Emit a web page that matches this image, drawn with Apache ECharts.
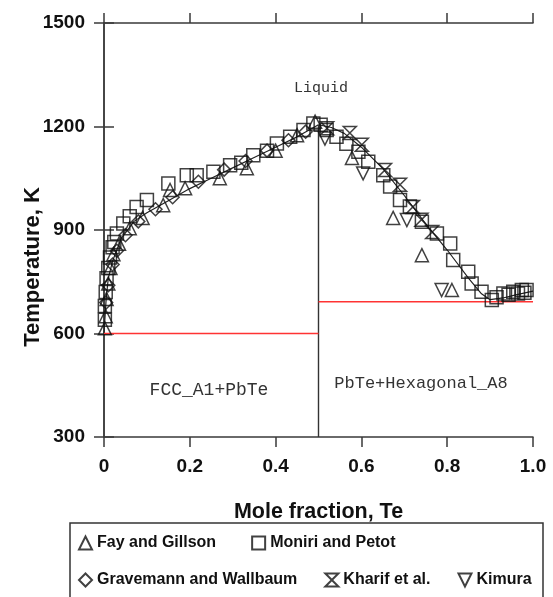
<!DOCTYPE html>
<html><head><meta charset="utf-8">
<script src="https://cdn.jsdelivr.net/npm/echarts@6/dist/echarts.min.js"></script>
<style>html,body{margin:0;padding:0;background:#fff}#c{width:553px;height:597px}</style>
</head><body><div id="c"></div>
<script>
// ---- data ----
var xTicks = [0, 0.2, 0.4, 0.6, 0.8, 1.0];
var xTickLabels = ['0', '0.2', '0.4', '0.6', '0.8', '1.0'];
var yTicks = [300, 600, 900, 1200, 1500];

var liquidusLeft = [[0,600],[0.005,700],[0.01,760],[0.02,810],[0.04,875],[0.07,925],[0.1,950],[0.15,985],[0.2,1020],[0.25,1050],[0.3,1080],[0.35,1110],[0.4,1140],[0.45,1170],[0.5,1205]];
var liquidusRight = [[0.5,1205],[0.53,1197],[0.56,1180],[0.6,1140],[0.65,1078],[0.7,1000],[0.75,918],[0.8,842],[0.85,760],[0.88,715],[0.9,698],[0.93,703],[0.96,712],[1.0,723]];
var compLine = [[0.5,1205],[0.5,300]];
var solidusLeft = [[0,600],[0.5,600]];
var solidusRight = [[0.5,692],[1.0,692]];

var fayGillson = [[0.002,615],[0.004,650],[0.006,700],[0.01,745],[0.015,790],[0.022,830],[0.035,860],[0.06,905],[0.09,935],[0.138,972],[0.154,1016],[0.189,1021],[0.27,1050],[0.333,1079],[0.4,1130],[0.45,1175],[0.492,1214],[0.578,1109],[0.674,935],[0.741,827],[0.811,726]];
var moniriPetot = [[0.002,640],[0.002,680],[0.004,720],[0.006,760],[0.01,790],[0.014,820],[0.02,850],[0.024,865],[0.03,890],[0.045,919],[0.06,940],[0.076,967],[0.1,987],[0.15,1035],[0.193,1059],[0.216,1059],[0.255,1069],[0.294,1088],[0.32,1095],[0.348,1117],[0.38,1130],[0.403,1151],[0.434,1170],[0.465,1190],[0.488,1209],[0.505,1205],[0.519,1190],[0.542,1170],[0.565,1150],[0.593,1127],[0.616,1098],[0.651,1059],[0.667,1026],[0.69,987],[0.713,968],[0.741,924],[0.776,890],[0.807,861],[0.814,813],[0.849,779],[0.857,745],[0.88,721],[0.904,697],[0.915,705],[0.931,716],[0.943,712],[0.954,721],[0.965,716],[0.974,726],[0.985,726],[0.98,718]];
var gravemannWallbaum = [[0.005,690],[0.01,740],[0.02,800],[0.03,840],[0.05,885],[0.08,925],[0.12,960],[0.16,995],[0.22,1040],[0.28,1075],[0.33,1100],[0.38,1130],[0.43,1160],[0.47,1185]];
var kharif = [[0.52,1195],[0.573,1181],[0.601,1147],[0.655,1074],[0.69,1031],[0.72,967],[0.74,930],[0.765,894]];
var kimura = [[0.515,1165],[0.604,1064],[0.706,929],[0.787,726]];

var seriesNames = ['Fay and Gillson','Moniri and Petot','Gravemann and Wallbaum','Kharif et al.','Kimura'];

// ---- chart ----
var chart = echarts.init(document.getElementById('c'), null, {renderer:'canvas'});
var FONT = '"Liberation Sans", Arial, sans-serif';
var MONO = '"Liberation Mono", "Courier New", monospace';
var axisColor = '#3a3a3a';

function scatter(name, data, symbol) {
  return {
    name: name, type: 'scatter', data: data, symbol: symbol, symbolSize: 13, z: 5,
    itemStyle: { color: 'rgba(0,0,0,0)', borderColor: '#111', borderWidth: 1.5 }
  };
}
function line(data, color, width) {
  return { type: 'line', data: data, showSymbol: false, symbol: 'none', silent: true,
    lineStyle: { color: color, width: width }, z: 3 };
}

var axisCommon = {
  axisLine: { show: true, lineStyle: { color: axisColor, width: 1.5 } },
  axisTick: { show: true, inside: false, length: 10, lineStyle: { color: axisColor, width: 1.5 } },
  splitLine: { show: false }
};

var legendText = { fontSize: 16, fontWeight: 'bold', color: '#111', fontFamily: FONT };

var option = {
  backgroundColor: '#fff',
  animation: false,
  grid: { left: 104, right: 20, top: 23, bottom: 160 },
  xAxis: [
    Object.assign({ type: 'value', min: 0, max: 1, interval: 0.2, position: 'bottom',
      axisLabel: { margin: 20, fontSize: 19, fontWeight: 'bold', color: '#111', fontFamily: FONT,
        formatter: function (v) { var i = xTicks.indexOf(Math.round(v*10)/10); return i >= 0 ? xTickLabels[i] : ''; } },
      name: 'Mole fraction, Te', nameLocation: 'middle', nameGap: 64,
      nameTextStyle: { fontSize: 21.5, fontWeight: 'bold', color: '#111', fontFamily: FONT }
    }, axisCommon),
    Object.assign({ type: 'value', min: 0, max: 1, interval: 0.2, position: 'top',
      axisLabel: { show: false } }, axisCommon)
  ],
  yAxis: [
    Object.assign({ type: 'value', min: 300, max: 1500, interval: 300, position: 'left',
      axisLabel: { margin: 19, fontSize: 19, fontWeight: 'bold', color: '#111', fontFamily: FONT,
        formatter: function (v) { return yTicks.indexOf(v) >= 0 ? String(v) : ''; } } }, axisCommon),
    Object.assign({ type: 'value', min: 300, max: 1500, interval: 300, position: 'right',
      axisLabel: { show: false } }, axisCommon)
  ],
  legend: [
    { data: seriesNames.slice(0,2), left: 73, top: 530, orient: 'horizontal', itemGap: 35,
      itemWidth: 13, itemHeight: 13, selectedMode: false, textStyle: legendText },
    { data: seriesNames.slice(2), left: 73, top: 567, orient: 'horizontal', itemGap: 27,
      itemWidth: 13, itemHeight: 13, selectedMode: false, textStyle: legendText }
  ],
  graphic: [
    { type: 'rect', shape: { x: 70, y: 523, width: 473, height: 100 },
      style: { fill: 'none', stroke: '#333', lineWidth: 1.5 }, z: 1 },
    { type: 'text', x: 33, y: 267, rotation: Math.PI/2,
      style: { text: 'Temperature, K', font: 'bold 22px ' + FONT, fill: '#111', textAlign: 'center', textVerticalAlign: 'middle' } },
    { type: 'text', x: 321, y: 88,
      style: { text: 'Liquid', font: '15px ' + MONO, fill: '#333', textAlign: 'center', textVerticalAlign: 'middle' } },
    { type: 'text', x: 209, y: 390,
      style: { text: 'FCC_A1+PbTe', font: '18px ' + MONO, fill: '#333', textAlign: 'center', textVerticalAlign: 'middle' } },
    { type: 'text', x: 421, y: 383,
      style: { text: 'PbTe+Hexagonal_A8', font: '17px ' + MONO, fill: '#333', textAlign: 'center', textVerticalAlign: 'middle' } }
  ],
  series: [
    line(liquidusLeft, '#222', 1.2),
    line(liquidusRight, '#222', 1.2),
    line(compLine, '#333', 1.4),
    line(solidusLeft, '#ff3333', 1.6),
    line(solidusRight, '#ff3333', 1.6),
    scatter(seriesNames[0], fayGillson, 'triangle'),
    scatter(seriesNames[1], moniriPetot, 'rect'),
    scatter(seriesNames[2], gravemannWallbaum, 'diamond'),
    scatter(seriesNames[3], kharif, 'path://M0,0L10,0L0,10L10,10Z'),
    scatter(seriesNames[4], kimura, 'path://M0,0L10,0L5,10Z')
  ]
};
chart.setOption(option);
</script>
</body></html>
